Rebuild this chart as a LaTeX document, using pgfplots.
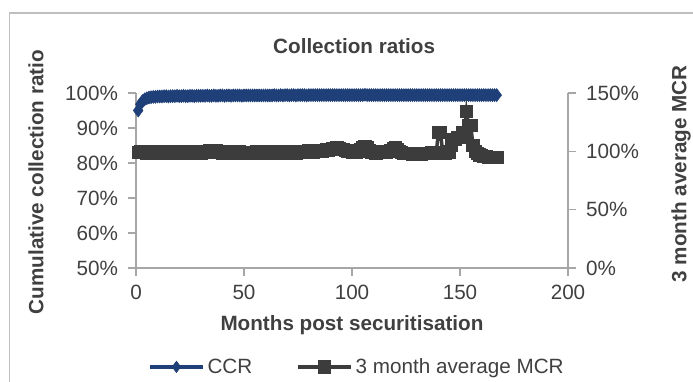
\documentclass[border=0pt]{standalone}
\usepackage{pgfplots}
\usepackage{pgfplotstable}
\pgfplotsset{compat=1.18}
\usepackage{fontspec}
\setmainfont{Liberation Sans}

\definecolor{ccrblue}{HTML}{1F3F78}
\definecolor{mcrgrey}{HTML}{3C3C3C}
\definecolor{axisgrey}{HTML}{A6A6A6}
\definecolor{textgrey}{HTML}{404040}
\definecolor{framegrey}{HTML}{BFBFBF}

% month, cumulative collection ratio, 3 month average MCR
\pgfplotstableread{
m ccr mcr
1 0.950 0.990
2 0.968 0.995
3 0.977 1.000
4 0.982 0.990
5 0.985 0.985
6 0.987 0.990
7 0.988 1.000
8 0.989 0.995
9 0.989 0.990
10 0.990 0.985
11 0.990 0.990
12 0.990 0.995
13 0.991 0.990
14 0.991 0.985
15 0.990 0.990
16 0.991 0.995
17 0.991 0.990
18 0.991 0.980
19 0.992 0.985
20 0.991 0.990
21 0.991 0.995
22 0.992 0.990
23 0.991 0.985
24 0.991 0.980
25 0.992 0.985
26 0.992 0.995
27 0.991 1.000
28 0.992 0.995
29 0.992 0.990
30 0.992 0.985
31 0.992 0.990
32 0.992 0.995
33 0.993 1.000
34 0.992 1.005
35 0.992 1.000
36 0.993 0.995
37 0.992 1.005
38 0.992 1.000
39 0.993 0.990
40 0.993 0.985
41 0.992 0.990
42 0.993 0.995
43 0.993 0.990
44 0.992 0.985
45 0.993 0.980
46 0.993 0.985
47 0.993 0.990
48 0.993 0.995
49 0.992 0.990
50 0.993 0.985
51 0.993 0.990
52 0.993 0.985
53 0.993 0.980
54 0.993 0.985
55 0.993 0.990
56 0.993 0.995
57 0.993 0.990
58 0.993 0.985
59 0.993 0.980
60 0.993 0.985
61 0.993 0.990
62 0.993 0.995
63 0.993 1.000
64 0.994 0.995
65 0.993 0.990
66 0.993 0.985
67 0.994 0.990
68 0.993 0.995
69 0.994 1.000
70 0.994 0.995
71 0.993 0.990
72 0.994 0.985
73 0.994 0.980
74 0.993 0.985
75 0.994 0.990
76 0.994 0.995
77 0.994 1.000
78 0.994 0.995
79 0.993 1.000
80 0.994 1.005
81 0.994 1.000
82 0.994 0.995
83 0.994 1.000
84 0.994 1.005
85 0.994 1.010
86 0.994 1.005
87 0.994 1.010
88 0.994 1.015
89 0.994 1.010
90 0.994 1.020
91 0.994 1.025
92 0.994 1.020
93 0.994 1.030
94 0.994 1.025
95 0.994 1.020
96 0.994 1.015
97 0.994 1.010
98 0.994 1.005
99 0.994 1.000
100 0.994 0.995
101 0.994 0.990
102 0.994 0.995
103 0.994 1.000
104 0.994 1.020
105 0.994 1.035
106 0.995 1.040
107 0.994 1.030
108 0.994 1.010
109 0.994 0.995
110 0.994 0.990
111 0.994 0.985
112 0.994 0.990
113 0.994 0.995
114 0.994 1.000
115 0.994 0.995
116 0.994 0.990
117 0.994 1.000
118 0.994 1.010
119 0.994 1.025
120 0.994 1.030
121 0.994 1.020
122 0.994 1.000
123 0.994 0.990
124 0.994 0.985
125 0.994 0.980
126 0.994 0.985
127 0.994 0.980
128 0.994 0.975
129 0.994 0.980
130 0.994 0.985
131 0.994 0.980
132 0.994 0.975
133 0.994 0.980
134 0.994 0.985
135 0.994 0.980
136 0.994 0.985
137 0.994 0.990
138 0.994 0.985
139 0.994 0.990
140 0.994 1.160
141 0.994 1.160
142 0.994 0.990
143 0.994 0.985
144 0.994 0.990
145 0.994 0.995
146 0.994 1.050
147 0.994 1.100
148 0.994 1.100
149 0.994 1.120
150 0.994 1.120
151 0.994 1.160
152 0.994 1.160
153 0.994 1.340
154 0.994 1.220
155 0.994 1.220
156 0.994 1.050
157 0.994 1.000
158 0.994 0.980
159 0.994 0.970
160 0.994 0.965
161 0.994 0.960
162 0.994 0.955
163 0.994 0.950
164 0.994 0.950
165 0.994 0.950
166 0.994 0.950
167 0.994 0.950
}\collection

\pgfplotsset{
  base/.style={
    scale only axis, width=324pt, height=131.25pt,
    at={(102pt,-201pt)}, anchor=south west,
    xmin=0, xmax=200, clip=false,
    axis line style={axisgrey, line width=0.9pt},
    tick style={axisgrey, line width=0.9pt},
    tick align=outside, major tick length=6pt,
    ticklabel style={font=\fontsize{15.5}{18}\selectfont, text=textgrey},
    label style={font=\bfseries\fontsize{15.5}{18}\selectfont, text=textgrey},
  },
}

\begin{document}
\begin{tikzpicture}
\useasboundingbox (0,0) rectangle (519.75pt,-286.5pt);
\begin{scope}
\clip (0,0) rectangle (519.75pt,-286.5pt);
\draw[framegrey, line width=0.8pt] (7pt,-9.75pt) rectangle (560pt,-320pt);
\end{scope}

% left axis: cumulative collection ratio
\begin{axis}[base,
  axis y line*=left, axis x line*=bottom,
  ymin=0.5, ymax=1.0,
  ytick={0.5,0.6,0.7,0.8,0.9,1.0},
  yticklabels={50\%,60\%,70\%,80\%,90\%,100\%},
  yticklabel style={xshift=-4pt},
  xtick={0,50,100,150,200},
  xticklabels={0,50,100,150,200},
  xticklabel style={yshift=-3pt},
  xlabel={Months post securitisation},
  xlabel style={at={(axis description cs:0.5,-0.326)}, anchor=center},
  ylabel={Cumulative collection ratio},
  ylabel style={at={(axis description cs:-0.2315,0.491)}, anchor=center},
  title={Collection ratios},
  title style={at={(axis description cs:0.505,1.223)}, anchor=center,
    font=\bfseries\fontsize{15.5}{18}\selectfont, text=textgrey},
]
\addplot[ccrblue, line width=2.8pt, mark=diamond*, mark size=4.8pt,
  mark options={fill=ccrblue, draw=ccrblue, line width=0.5pt}]
  table[x=m, y=ccr] {\collection};
\end{axis}

% right axis: 3 month average MCR
\begin{axis}[base,
  axis y line*=right, axis x line=none,
  ymin=0, ymax=1.5,
  ytick={0,0.5,1.0,1.5},
  yticklabels={0\%,50\%,100\%,150\%},
  yticklabel style={xshift=4pt},
  ylabel={3 month average MCR},
  ylabel style={at={(axis description cs:1.2616,0.537)}, anchor=center},
  legend columns=2,
  legend style={at={(axis description cs:0.512,-0.565)}, anchor=center,
    draw=none, fill=none, font=\fontsize{15.5}{18}\selectfont, text=textgrey,
    /tikz/every even column/.append style={column sep=31pt},
    inner sep=0pt},
  legend image code/.code={
    \draw[mark repeat=2, mark phase=2] plot coordinates {(0pt,0pt) (20pt,0pt) (40pt,0pt)};
  },
]
\addlegendimage{ccrblue, line width=2.6pt, mark=diamond*, mark size=4.2pt,
  mark options={fill=ccrblue, draw=ccrblue, line width=0.5pt}}
\addlegendentry{CCR}
\addplot[mcrgrey, line width=2.6pt, mark=square*, mark size=4.6pt,
  mark options={fill=mcrgrey, draw=mcrgrey, line width=0.5pt, rounded corners=1.5pt}]
  table[x=m, y=mcr] {\collection};
\addlegendentry{3 month average MCR}
\end{axis}
\end{tikzpicture}
\end{document}
